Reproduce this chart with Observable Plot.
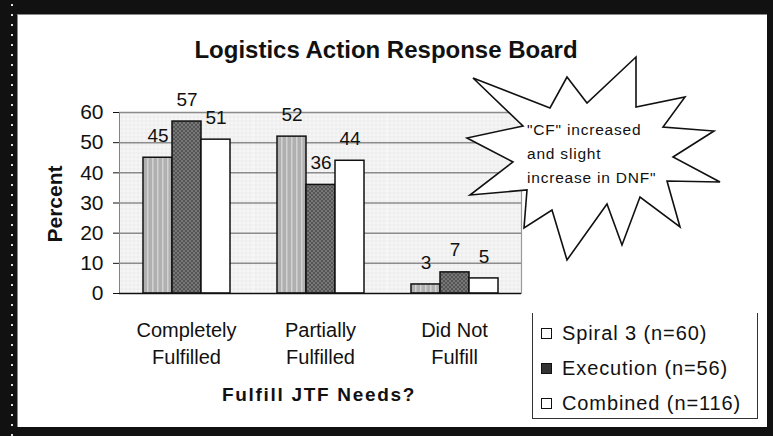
<!DOCTYPE html>
<html>
<head>
<meta charset="utf-8">
<script src="https://cdn.jsdelivr.net/npm/d3@7"></script>
<script src="https://cdn.jsdelivr.net/npm/@observablehq/plot@0.6"></script>
<style>
  html, body { margin: 0; padding: 0; background: #000; }
  #wrap { position: relative; width: 773px; height: 436px; background: #111; overflow: hidden; font-family: "Liberation Sans", Arial, sans-serif; }
  #panel { position: absolute; left: 17px; top: 14px; width: 750px; height: 413px; background: #fff; border-left: 1px solid #888; border-top: 1px solid #888; box-sizing: border-box; }
  #dots { position: absolute; left: 11px; top: 0; width: 2px; height: 436px;
          background-image: radial-gradient(circle, #ddd 0.8px, transparent 1px); background-size: 2px 10px; }
  #chart { position: absolute; left: 0; top: 0; }
  #overlay { position: absolute; left: 0; top: 0; pointer-events: none; }
  #legend { position: absolute; left: 532px; top: 313px; width: 226px; height: 106px; box-sizing: border-box;
            border-left: 1.5px solid #333; border-right: 1.5px solid #333; border-bottom: 1.5px solid #333; background: #fff; }
  .li { position: absolute; left: 8px; font-size: 20px; letter-spacing: 0.9px; color: #111; line-height: 20px; white-space: nowrap; }
  .sw { display: inline-block; width: 9px; height: 9px; border: 1.5px solid #111; margin-right: 10px; vertical-align: 1px; }
</style>
</head>
<body>
<div id="wrap">
  <div id="dots"></div>
  <div id="panel"></div>
  <svg width="0" height="0" style="position:absolute">
    <defs>
      <pattern id="pSpiral" patternUnits="userSpaceOnUse" width="5" height="5">
        <rect width="5" height="5" fill="#b0b0b0"></rect>
        <rect x="1" width="1.5" height="5" fill="#d2d2d2"></rect>
      </pattern>
      <pattern id="pExec" patternUnits="userSpaceOnUse" width="4" height="4">
        <rect width="4" height="4" fill="#555"></rect>
        <rect x="0" y="0" width="2" height="2" fill="#777"></rect>
        <rect x="2" y="2" width="2" height="2" fill="#777"></rect>
      </pattern>
      <pattern id="pGrid" patternUnits="userSpaceOnUse" width="4" height="4">
        <rect width="4" height="4" fill="#f6f6f6"></rect>
        <rect x="0" y="0" width="1" height="1" fill="#d4d4d4"></rect>
        <rect x="2" y="0" width="1" height="1" fill="#e2e2e2"></rect>
        <rect x="0" y="2" width="1" height="1" fill="#e2e2e2"></rect>
      </pattern>
    </defs>
  </svg>
  <div id="chart"></div>
  <svg id="overlay" width="773" height="436"></svg>
  <div id="legend"></div>
</div>
<script>
// ---- data ----
const categories = ["Completely Fulfilled", "Partially Fulfilled", "Did Not Fulfill"];
const categoryLabels = ["Completely\nFulfilled", "Partially\nFulfilled", "Did Not\nFulfill"];
const series = ["Spiral 3 (n=60)", "Execution (n=56)", "Combined (n=116)"];
const spiral3 = [45, 52, 3];
const execution = [57, 36, 7];
const combined = [51, 44, 5];
const yTicks = [0, 10, 20, 30, 40, 50, 60];
const title = "Logistics Action Response Board";
const yLabel = "Percent";
const xLabel = "Fulfill JTF Needs?";
const note = ["\"CF\" increased", "and slight", "increase in DNF\""];

const seriesValues = [spiral3, execution, combined];
const rows = [];
categories.forEach((c, i) => series.forEach((s, j) => rows.push({category: c, series: s, value: seriesValues[j][i]})));
const fills = ["url(#pSpiral)", "url(#pExec)", "#ffffff"];

const chart = Plot.plot({
  width: 773,
  height: 436,
  marginLeft: 118,
  marginRight: 252,
  marginTop: 112,
  marginBottom: 143,
  style: {fontFamily: "Liberation Sans, Arial, sans-serif", fontSize: "21px", color: "#111", background: "transparent", overflow: "visible"},
  fx: {domain: categories, padding: 0, axis: null},
  x: {domain: series, paddingInner: 0, paddingOuter: 0.74, axis: null},
  y: {domain: [0, 60], ticks: yTicks, tickSize: 6, tickPadding: 10, line: true, label: null},
  color: {domain: series, range: fills},
  marks: [
    Plot.frame({fill: "url(#pGrid)", stroke: null}),
    Plot.ruleY(yTicks.slice(1), {stroke: "#8c8c8c", strokeWidth: 1.5}),
    Plot.frame({fx: [categories[2]], anchor: "right", stroke: "#999", strokeWidth: 1.2}),
    Plot.barY(rows, {fx: "category", x: "series", y: "value", fill: "series", stroke: "#111", strokeWidth: 1.5}),
    Plot.text(rows, {fx: "category", x: "series", y: "value", text: d => String(d.value), dy: -22, fontSize: 19, fill: "#111"}),
    Plot.text(categories, {fx: d => d, frameAnchor: "bottom", text: (d, i) => categoryLabels[i], lineAnchor: "top", dy: 24, lineHeight: 1.35, fontSize: 20, fill: "#111", style: "letter-spacing:0.6px"}),
    Plot.ruleY([0], {stroke: "#111", strokeWidth: 1.5})
  ]
});
document.getElementById("chart").appendChild(chart);

// ---- overlay texts & callout ----
const ov = d3.select("#overlay");
ov.append("text").attr("x", 386).attr("y", 58).attr("text-anchor", "middle")
  .attr("font-size", 24).attr("font-weight", "bold").attr("fill", "#111").text(title);
ov.append("text").attr("transform", "translate(62,204) rotate(-90)").attr("text-anchor", "middle")
  .attr("font-size", 21).attr("font-weight", "bold").attr("fill", "#111").text(yLabel);
ov.append("text").attr("x", 319).attr("y", 401).attr("text-anchor", "middle")
  .attr("font-size", 19).attr("font-weight", "bold").attr("letter-spacing", 1.7).attr("fill", "#111").text(xLabel);

const star = [[636,57],[636,107],[685,97],[663,127],[714,131],[673,157],[720,182],[667,181],[680,227],[640,197],[622,245],[607,204],[567,260],[552,210],[524,228],[527,190],[470,195],[513,162],[467,138],[523,126],[473,78],[550,108],[567,77],[587,103]];
ov.append("polygon").attr("points", star.map(p => p.join(",")).join(" "))
  .attr("fill", "#fff").attr("stroke", "#111").attr("stroke-width", 1.6).attr("stroke-linejoin", "miter");
note.forEach((t, i) => {
  ov.append("text").attr("x", 527).attr("y", 135 + i * 24).attr("font-size", 15.5)
    .attr("letter-spacing", 0.8).attr("fill", "#111").text(t);
});

// ---- legend ----
const legend = d3.select("#legend");
const swFill = ["#ffffff", "#333", "#ffffff"];
series.forEach((s, i) => {
  const row = legend.append("div").attr("class", "li").style("top", (10 + i * 35) + "px");
  row.append("span").attr("class", "sw").style("background", swFill[i]);
  row.append("span").text(s);
});
</script>
</body>
</html>
